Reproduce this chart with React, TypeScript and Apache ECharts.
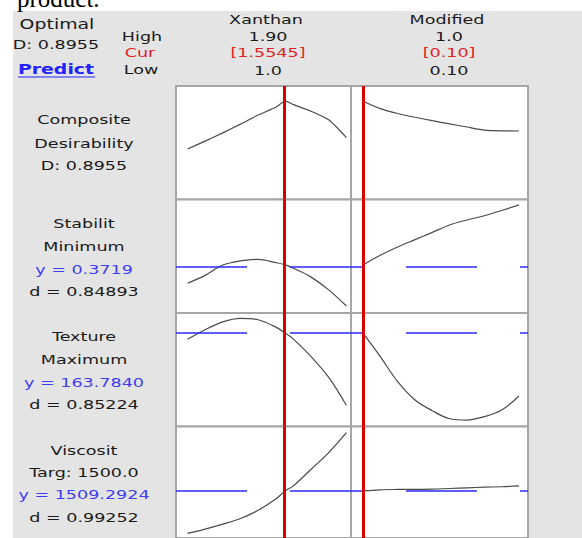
import React, { useEffect, useRef } from "react";
import * as echarts from "echarts";

// ---- data ----
const xanthanX = [1.0, 1.1, 1.2, 1.3, 1.4, 1.5, 1.5545, 1.6, 1.7, 1.8, 1.9];
const modifiedX = [0.1, 0.2, 0.3, 0.4, 0.5, 0.6, 0.7, 0.8, 0.9, 1.0];

const compositeXanthan = [0.449, 0.522, 0.599, 0.681, 0.766, 0.839, 0.8955, 0.863, 0.802, 0.721, 0.555];
const compositeModified = [0.8955, 0.826, 0.78, 0.745, 0.713, 0.683, 0.654, 0.625, 0.618, 0.617];

const stabilityXanthan = [0.3552, 0.3624, 0.3718, 0.3756, 0.377, 0.374, 0.3719, 0.3689, 0.3608, 0.3492, 0.3345];
const stabilityModified = [0.3719, 0.3807, 0.3882, 0.3949, 0.4015, 0.4082, 0.4127, 0.4166, 0.4214, 0.4265];

const textureXanthan = [158.7, 166.7, 173.3, 176.2, 175.0, 168.9, 163.784, 158.9, 144.3, 126.9, 103.5];
const textureModified = [163.784, 144.2, 123.3, 108.0, 99.1, 92.4, 91.3, 94.1, 99.7, 111.4];

const viscosityXanthan = [1312, 1332, 1355, 1381, 1419, 1471, 1509.29, 1532, 1609, 1686, 1778];
const viscosityModified = [1509.29, 1514, 1515.5, 1516, 1517, 1520, 1523, 1526, 1528, 1532];

const currentSettings = [1.5545, 0.1];
const predictedY = [null, 0.3719, 163.784, 1509.2924];

const factorNames = ["Xanthan", "Modified"];
const highLabels = ["1.90", "1.0"];
const curLabels = ["[1.5545]", "[0.10]"];
const lowLabels = ["1.0", "0.10"];

const rowLabels: { text: string; blue?: boolean }[][] = [
  [{ text: "Composite" }, { text: "Desirability" }, { text: "D: 0.8955" }],
  [{ text: "Stabilit" }, { text: "Minimum" }, { text: "y = 0.3719", blue: true }, { text: "d = 0.84893" }],
  [{ text: "Texture" }, { text: "Maximum" }, { text: "y = 163.7840", blue: true }, { text: "d = 0.85224" }],
  [{ text: "Viscosit" }, { text: "Targ: 1500.0" }, { text: "y = 1509.2924", blue: true }, { text: "d = 0.99252" }],
];

const curves = [
  [compositeXanthan, compositeModified],
  [stabilityXanthan, stabilityModified],
  [textureXanthan, textureModified],
  [viscosityXanthan, viscosityModified],
];
const xs = [xanthanX, modifiedX];

// ---- layout (styles/positions) ----
const rowTops = [86, 199.5, 313, 426.5];
const rowHeight = 113.5;
const colLefts = [176, 351];
const colWidths = [175, 177];
const xRanges = [
  [0.935, 1.926],
  [0.0308, 1.0519],
];
const yRanges = [
  [-0.0234, 1.0374],
  [0.32818, 0.43136],
  [85.91, 180.67],
  [1290.9, 1806.8],
];
const dashOffsets = [0, 59];
const labelY = [
  [120, 143.3, 166],
  [224, 246.7, 269.3, 291.7],
  [336.7, 359.3, 382.3, 404.3],
  [450.7, 472.7, 495, 517.7],
];

const FONT = "DejaVu Sans";
const TXT = "#1a1a1a";
const BLUE_TXT = "#3c3cf0";
const RED_TXT = "#e2231f";
const SX = 1.35;

function txt(text: string, x: number, y: number, opts: any = {}) {
  return {
    type: "text",
    x,
    y,
    scaleX: opts.scaleX ?? SX,
    z: 100,
    style: {
      text,
      fill: opts.fill ?? TXT,
      font: `${opts.weight ?? "normal"} ${opts.size ?? 13}px "${opts.family ?? FONT}"`,
      textAlign: opts.align ?? "center",
      textVerticalAlign: "middle",
      align: opts.align ?? "center",
      verticalAlign: "middle",
    },
  };
}

function buildOption() {
  const grid: any[] = [];
  const xAxis: any[] = [];
  const yAxis: any[] = [];
  const series: any[] = [];
  let idx = 0;
  for (let r = 0; r < 4; r++) {
    for (let c = 0; c < 2; c++) {
      grid.push({
        left: colLefts[c],
        top: rowTops[r],
        width: colWidths[c],
        height: rowHeight,
        show: true,
        backgroundColor: "#ffffff",
        borderColor: "#a6a6a6",
        borderWidth: 2,
      });
      xAxis.push({
        type: "value",
        gridIndex: idx,
        min: xRanges[c][0],
        max: xRanges[c][1],
        show: false,
      });
      yAxis.push({
        type: "value",
        gridIndex: idx,
        min: yRanges[r][0],
        max: yRanges[r][1],
        show: false,
      });
      const markData: any[] = [];
      const py = predictedY[r];
      if (py !== null) {
        markData.push({
          yAxis: py,
          lineStyle: {
            color: "#2b2bff",
            width: 1.6,
            type: [71, 43],
            dashOffset: dashOffsets[c],
          },
        });
      }
      markData.push({
        xAxis: currentSettings[c],
        lineStyle: { color: "#d80000", width: 3, type: "solid" },
      });
      series.push({
        type: "line",
        xAxisIndex: idx,
        yAxisIndex: idx,
        data: xs[c].map((x, i) => [x, curves[r][c][i]]),
        showSymbol: false,
        smooth: r === 0 ? 0.2 : 0.35,
        lineStyle: { color: "#4a4a4a", width: 1.2 },
        silent: true,
        markLine: {
          silent: true,
          symbol: "none",
          label: { show: false },
          animation: false,
          data: markData,
        },
      });
      idx++;
    }
  }

  const graphic: any[] = [
    { type: "rect", shape: { x: 0, y: 0, width: 582, height: 11 }, style: { fill: "#ffffff" }, z: 50 },
    { type: "rect", shape: { x: 0, y: 0, width: 13, height: 538 }, style: { fill: "#ffffff" }, z: 50 },
    txt("product.", 17, -1.5, { family: "Liberation Serif", size: 25, fill: "#000", align: "left", scaleX: 1 }),
    txt("Optimal", 57, 24, { size: 14 }),
    txt("D: 0.8955", 56, 45),
    txt("Predict", 56, 69, { fill: "#2323ff", weight: "bold", size: 14 }),
    { type: "line", shape: { x1: 18, y1: 77, x2: 95, y2: 77 }, style: { stroke: "#2323ff", lineWidth: 1.2 }, z: 100 },
    txt("High", 142, 37),
    txt("Cur", 140, 53, { fill: RED_TXT }),
    txt("Low", 141, 70),
  ];
  const colCenters = [266, 447];
  for (let c = 0; c < 2; c++) {
    graphic.push(txt(factorNames[c], colCenters[c], 20));
    graphic.push(txt(highLabels[c], colCenters[c] + 2, 37));
    graphic.push(txt(curLabels[c], colCenters[c] + 2, 53, { fill: RED_TXT }));
    graphic.push(txt(lowLabels[c], colCenters[c] + 2, 71));
  }
  for (let r = 0; r < 4; r++) {
    rowLabels[r].forEach((l, i) => {
      graphic.push(txt(l.text, 84, labelY[r][i], { fill: l.blue ? BLUE_TXT : TXT }));
    });
  }

  return {
    animation: false,
    backgroundColor: "#e4e4e4",
    grid,
    xAxis,
    yAxis,
    series,
    graphic,
  };
}

export default function App() {
  const ref = useRef<HTMLDivElement>(null);
  useEffect(() => {
    if (!ref.current) return;
    const chart = echarts.init(ref.current, null, { renderer: "svg" });
    chart.setOption(buildOption() as any);
    return () => chart.dispose();
  }, []);
  return (
    <div
      ref={ref}
      style={{ position: "absolute", left: 0, top: 0, width: 582, height: 538 }}
    />
  );
}
